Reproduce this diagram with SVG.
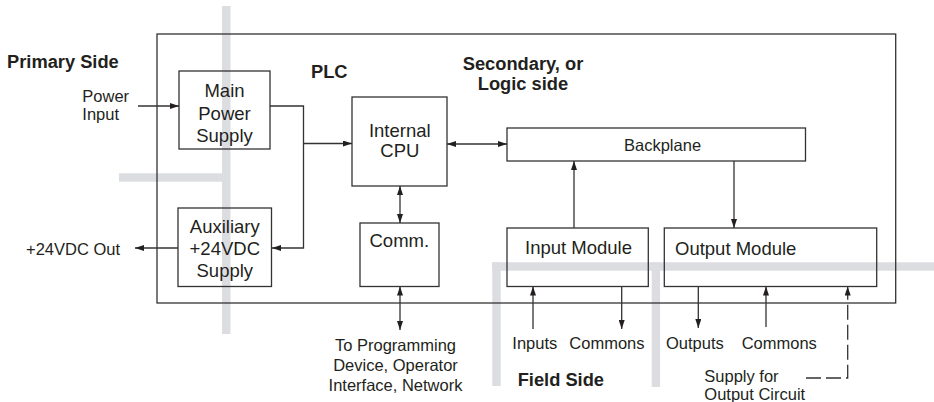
<svg xmlns="http://www.w3.org/2000/svg" width="934" height="402" viewBox="0 0 934 402">
<style>
.bar{fill:#dcdde0}
.box{fill:none;stroke:#333;stroke-width:1.3}
.ln{fill:none;stroke:#333;stroke-width:1.3}
.dash{stroke-dasharray:15 5}
text{font-family:"Liberation Sans",Arial,sans-serif;fill:#231f20}
.b{font-weight:bold;font-size:18.3px}
.s{font-size:16.5px}
.m{font-size:18.5px}
.c{text-anchor:middle}
</style>
<defs>
<marker id="ah" viewBox="0 0 9 6" refX="9" refY="3" markerWidth="9" markerHeight="6" markerUnits="userSpaceOnUse" orient="auto-start-reverse">
<path d="M0,0 L9,3 L0,6 z" fill="#231f20"/>
</marker>
</defs>
<g id="zones">
<rect class="bar" x="222" y="6" width="8.5" height="328"/>
<rect class="bar" x="119" y="173.3" width="103" height="8.4"/>
<rect class="bar" x="492" y="262.3" width="442" height="8.4"/>
<rect class="bar" x="492.3" y="262.3" width="8.4" height="123.7"/>
<rect class="bar" x="651.7" y="262.3" width="8.4" height="124.7"/>
</g>
<g id="labels">
<text class="b" x="7" y="68">Primary Side</text>
<text class="b" x="311" y="78">PLC</text>
<text class="b c" x="523" y="70">Secondary, or</text>
<text class="b c" x="523" y="90">Logic side</text>
<text class="b" x="517.7" y="386">Field Side</text>
<text class="s" x="82.3" y="101.7">Power</text>
<text class="s" x="82.3" y="120">Input</text>
<text class="s" x="26" y="255">+24VDC Out</text>
<text class="s c" x="395.5" y="350.5">To Programming</text>
<text class="s c" x="395.5" y="370.5">Device, Operator</text>
<text class="s c" x="395.5" y="391">Interface, Network</text>
<text class="s" x="512.3" y="349">Inputs</text>
<text class="s" x="569.3" y="349">Commons</text>
<text class="s" x="666" y="349">Outputs</text>
<text class="s" x="741.7" y="349">Commons</text>
<text class="s" x="704.3" y="381.5">Supply for</text>
<text class="s" x="704.3" y="399.5">Output Circuit</text>
</g>
<g id="plc">
<rect class="box" x="157" y="34" width="738.7" height="269"/>
</g>
<g id="main-power-supply">
<rect class="box" x="179" y="71" width="91" height="78"/>
<text class="m c" x="224.5" y="96.7">Main</text>
<text class="m c" x="224.5" y="119.5">Power</text>
<text class="m c" x="224.5" y="141.5">Supply</text>
</g>
<g id="internal-cpu">
<rect class="box" x="352" y="97" width="95" height="89"/>
<text class="m c" x="399.8" y="136.5">Internal</text>
<text class="m c" x="399.8" y="156.5">CPU</text>
</g>
<g id="backplane">
<rect class="box" x="507" y="128" width="298.5" height="33"/>
<text class="s" x="624" y="150.5">Backplane</text>
</g>
<g id="comm">
<rect class="box" x="360" y="223" width="79" height="63.5"/>
<text class="m c" x="399.3" y="247.3">Comm.</text>
</g>
<g id="aux-supply">
<rect class="box" x="178" y="208" width="93.5" height="78.5"/>
<text class="m c" x="224.8" y="233">Auxiliary</text>
<text class="m c" x="224.8" y="255">+24VDC</text>
<text class="m c" x="224.8" y="277">Supply</text>
</g>
<g id="input-module">
<rect class="box" x="507" y="228" width="141.3" height="58.5"/>
<text class="m" x="525" y="254">Input Module</text>
</g>
<g id="output-module">
<rect class="box" x="664.3" y="228" width="212.4" height="58.5"/>
<text class="m" x="675" y="255">Output Module</text>
</g>
<g id="connectors">
<path class="ln" d="M138,106 H179" marker-end="url(#ah)"/>
<path class="ln" d="M270,106 H303.5 V248 H272" marker-end="url(#ah)"/>
<path class="ln" d="M303.5,143.5 H352" marker-end="url(#ah)"/>
<path class="ln" d="M447,144 H507" marker-start="url(#ah)" marker-end="url(#ah)"/>
<path class="ln" d="M400,186 V223" marker-start="url(#ah)" marker-end="url(#ah)"/>
<path class="ln" d="M400,286.5 V330" marker-start="url(#ah)" marker-end="url(#ah)"/>
<path class="ln" d="M178,248 H135" marker-end="url(#ah)"/>
<path class="ln" d="M574,228 V161" marker-end="url(#ah)"/>
<path class="ln" d="M734,161 V228" marker-end="url(#ah)"/>
<path class="ln" d="M533,329 V286.5" marker-end="url(#ah)"/>
<path class="ln" d="M621.7,286.5 V329" marker-end="url(#ah)"/>
<path class="ln" d="M698.3,286.5 V328" marker-end="url(#ah)"/>
<path class="ln" d="M766,327 V286.5" marker-end="url(#ah)"/>
<path class="ln dash" d="M806,378 H847.7 V286.5" marker-end="url(#ah)"/>
</g>
</svg>
